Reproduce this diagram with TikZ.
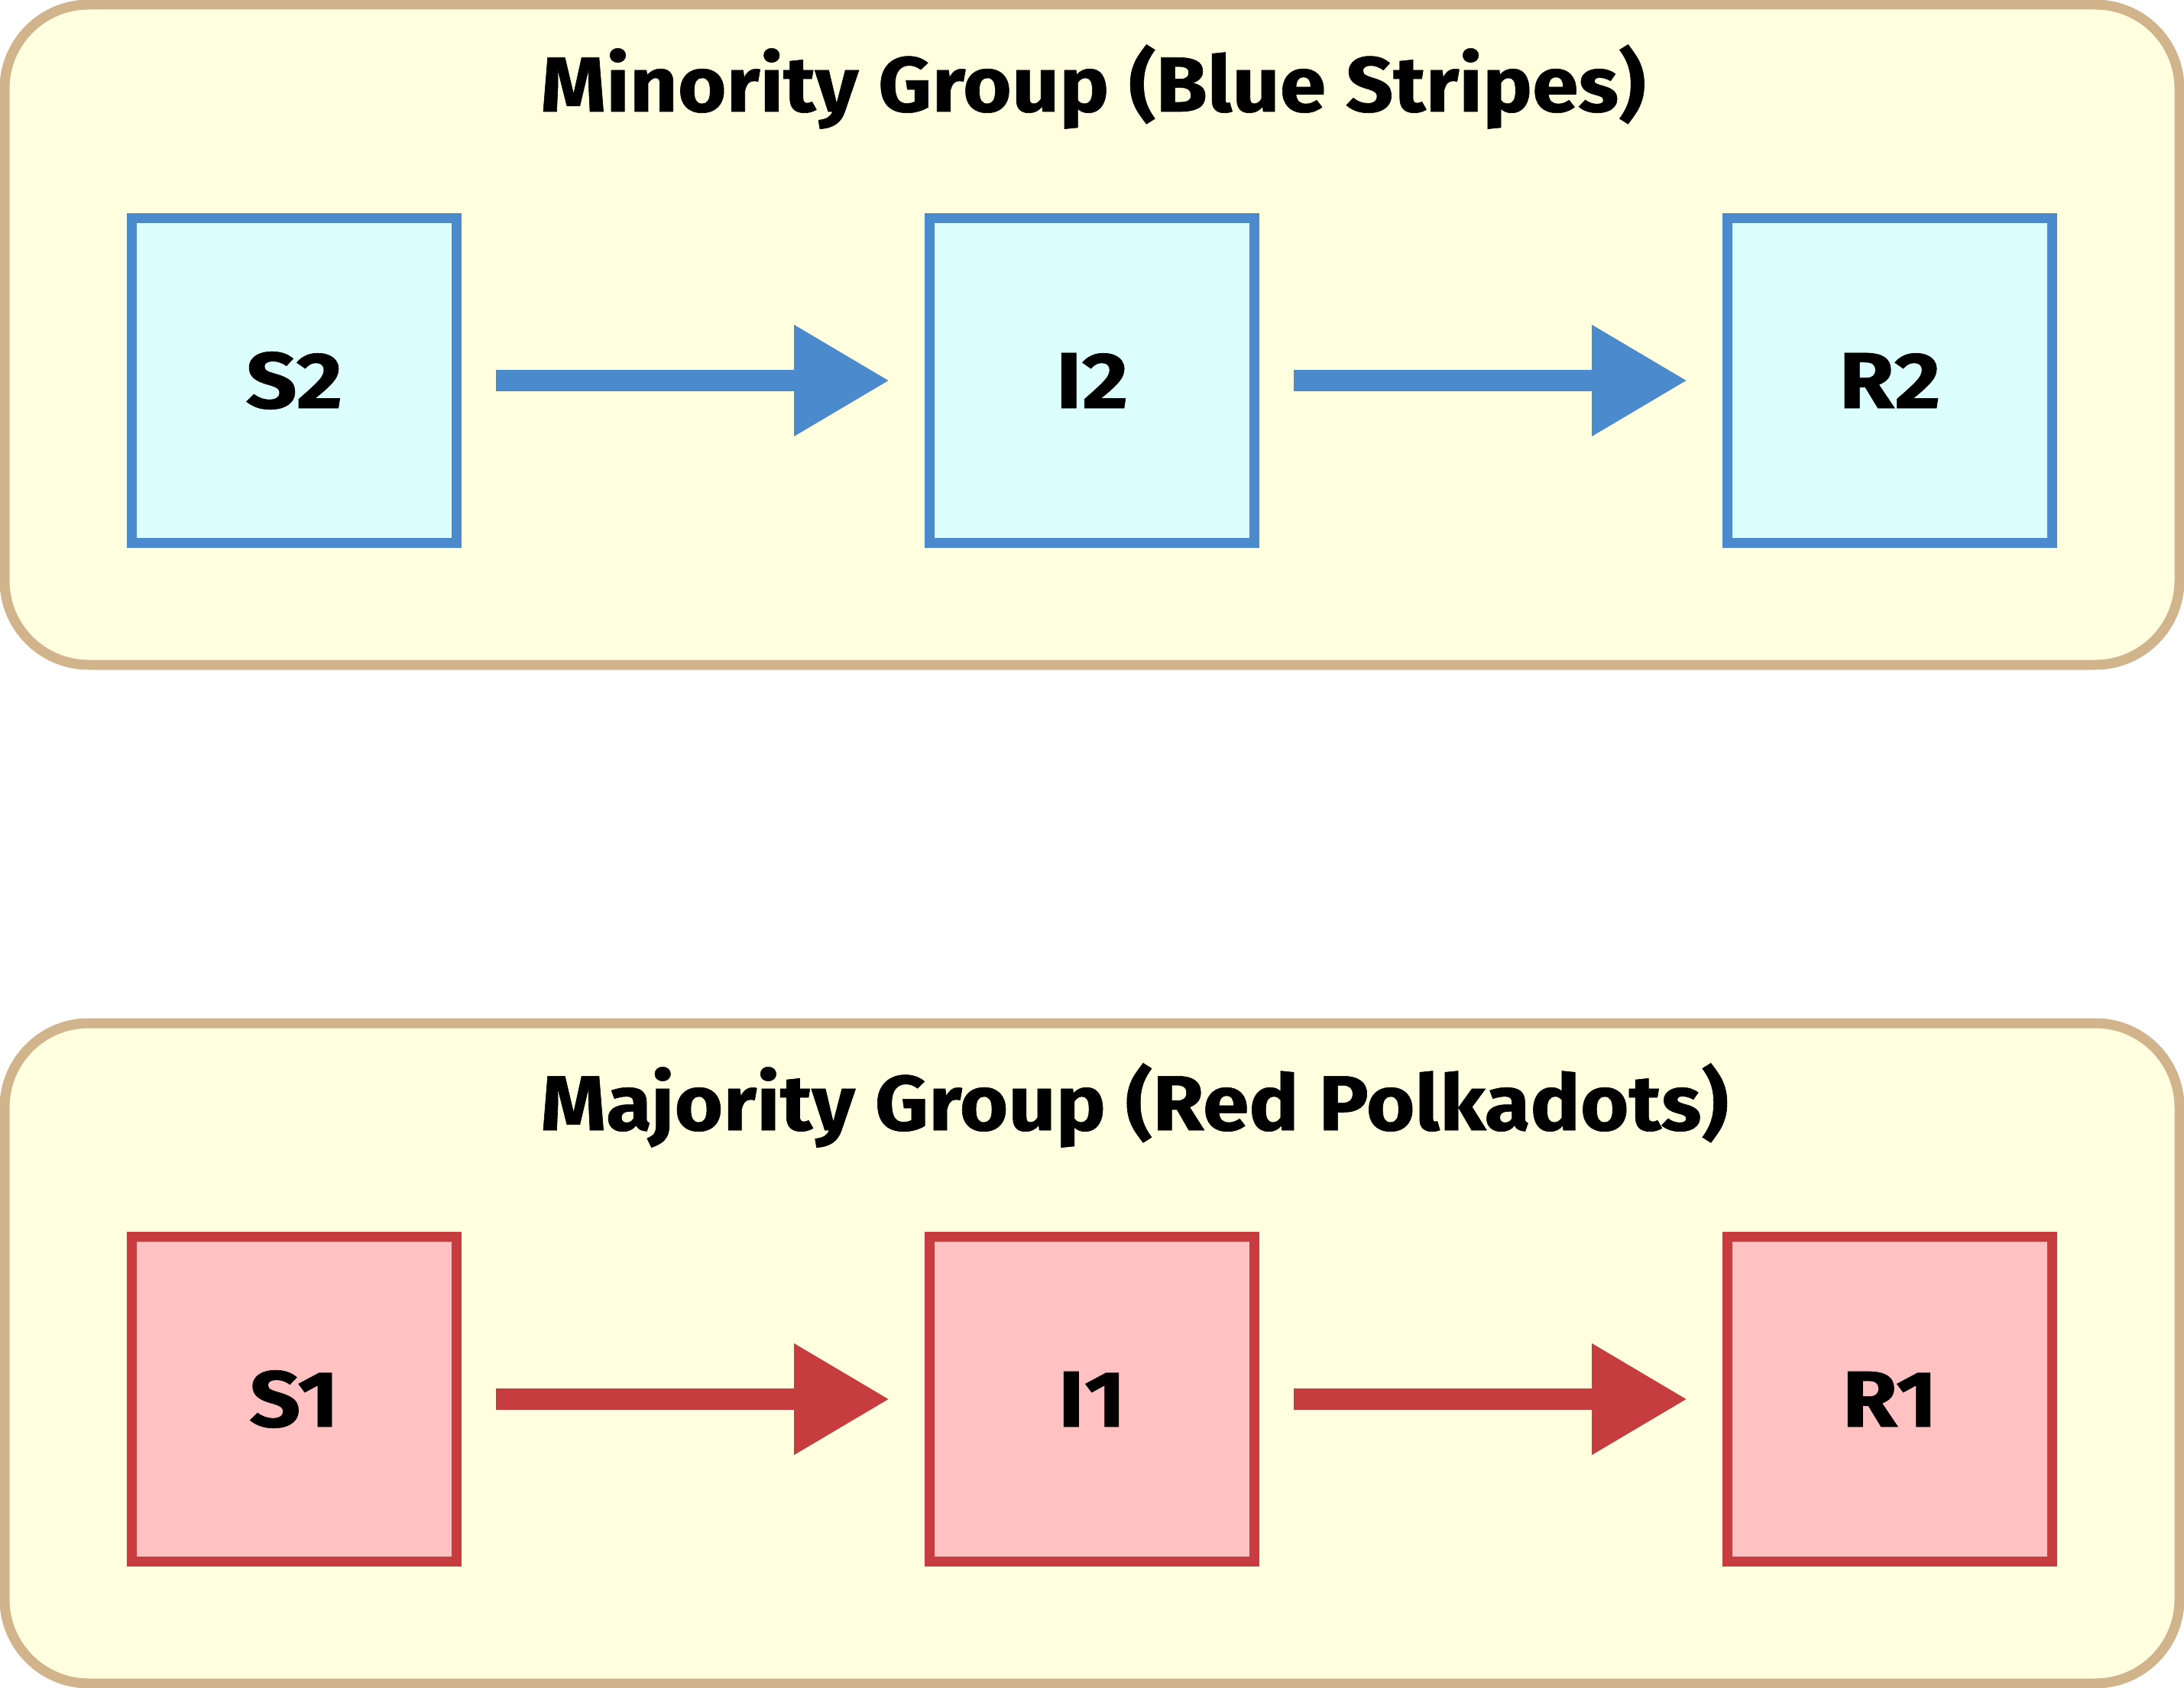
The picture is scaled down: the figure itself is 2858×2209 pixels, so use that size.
\documentclass[tikz,border=0pt]{standalone}
\usepackage{fontspec}
\setmainfont{Fira Sans}[BoldFeatures={FakeStretch=1.07, FakeBold=0.6}]
\newfontfamily\boxfont{Fira Sans}[BoldFeatures={FakeStretch=1.13, FakeBold=0.6}]
\usetikzlibrary{arrows.meta}
\definecolor{panelfill}{HTML}{FFFFE0}
\definecolor{paneledge}{HTML}{D2B48C}
\definecolor{minfill}{HTML}{DDFEFF}
\definecolor{minedge}{HTML}{4A8ACD}
\definecolor{majfill}{HTML}{FFC1C1}
\definecolor{majedge}{HTML}{C73C3E}
\begin{document}
\begin{tikzpicture}[x=0.5pt, y=-0.5pt,
    panel/.style={line width=6.5pt, draw=paneledge, fill=panelfill, rounded corners=55pt},
    grouptitle/.style={anchor=base west, inner sep=0pt, font=\fontsize{51}{60}\selectfont\bfseries},
    compartment/.style={draw=#1edge, fill=#1fill, line width=6.5pt, minimum size=212.5pt,
        inner sep=0pt, font=\boxfont\fontsize{52}{60}\selectfont\bfseries},
    flow/.style={line width=14pt, draw=#1edge, fill=#1edge,
        -{Triangle[length=62.5pt, width=69pt]}, shorten <=22.5pt, shorten >=23pt}]
    \useasboundingbox (0,0) rectangle (2858,2209);
    % minority group
    \draw[panel] (6,6) rectangle (2852,870);
    \node[grouptitle] (mintitle) at (707,146) {Minority Group (Blue Stripes)};
    \node[compartment=min] (S2) at (385,498) {S2};
    \node[compartment=min] (I2) at (1429,498) {I2};
    \node[compartment=min] (R2) at (2473,498) {R2};
    \draw[flow=min] (S2) -- (I2);
    \draw[flow=min] (I2) -- (R2);
    % majority group
    \draw[panel] (6,1339) rectangle (2852,2203);
    \node[grouptitle] (majtitle) at (707,1479) {Majority Group (Red Polkadots)};
    \node[compartment=maj] (S1) at (385,1831) {S1};
    \node[compartment=maj] (I1) at (1429,1831) {I1};
    \node[compartment=maj] (R1) at (2473,1831) {R1};
    \draw[flow=maj] (S1) -- (I1);
    \draw[flow=maj] (I1) -- (R1);
\end{tikzpicture}
\end{document}
